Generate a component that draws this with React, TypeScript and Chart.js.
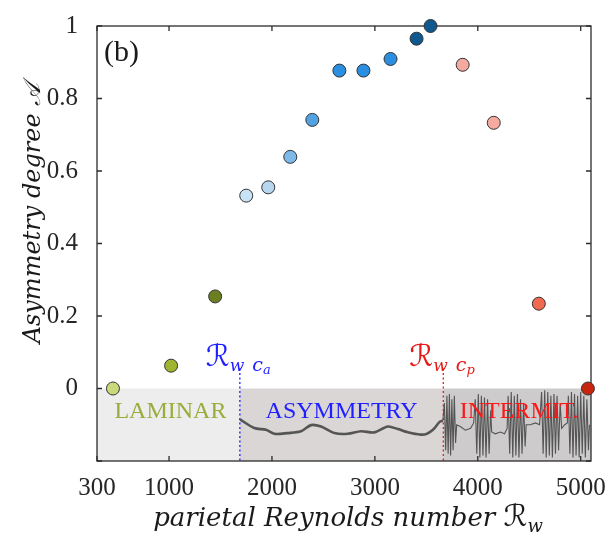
import React, { useEffect, useRef } from "react";
import { Chart, registerables } from "chart.js";

Chart.register(...registerables);

// ---- data ----
const reynolds = [455, 1020, 1448, 1750, 1964, 2178, 2392, 2655, 2889, 3152, 3405, 3541, 3853, 4155, 4593, 5070];
const asymmetry = [0.0, 0.063, 0.254, 0.532, 0.555, 0.639, 0.741, 0.877, 0.877, 0.909, 0.965, 1.0, 0.893, 0.733, 0.234, 0.0];
const pointColors = [
  "#c9d97c", "#9fb52f", "#6b7e21", "#c8e2f6", "#b7d7f1", "#7fb9e9", "#52a2e2", "#2a8fe0",
  "#2a8fe0", "#2a8fe0", "#0f5890", "#0f5890", "#f5aa9f", "#f5aa9f", "#f06a50", "#c8230f",
];

const xTicks = [300, 1000, 2000, 3000, 4000, 5000];
const yTicks = [-0.2, 0, 0.2, 0.4, 0.6, 0.8, 1];

const regimeBounds = [300, 1688, 3665, 5100];
const regimeNames = ["LAMINAR", "ASYMMETRY", "INTERMIT."];
const criticalRe = [1688, 3665]; // R_w c_a , R_w c_p
const criticalSub = ["a", "p"];

// schematic velocity signals drawn in the regime strip
const asymSignal = [
  [1690, -0.085], [1828, -0.109], [1942, -0.114], [2022, -0.125], [2152, -0.123], [2282, -0.118],
  [2380, -0.101], [2477, -0.105], [2607, -0.123], [2736, -0.125], [2866, -0.118], [2996, -0.121],
  [3126, -0.105], [3223, -0.112], [3353, -0.123], [3483, -0.127], [3564, -0.114], [3629, -0.092], [3661, -0.089],
];
const intermitSignal = [
  [3661, -0.089], [3675, -0.04], [3688, -0.17], [3700, -0.02], [3712, -0.18], [3724, -0.015], [3736, -0.185],
  [3748, -0.03], [3760, -0.17], [3772, -0.02], [3784, -0.15], [3795, -0.1],
  [3830, -0.105], [3880, -0.115], [3930, -0.11], [3960, -0.095],
  [3975, -0.03], [3990, -0.18], [4005, -0.015], [4020, -0.19], [4035, -0.02], [4050, -0.185], [4065, -0.025],
  [4080, -0.19], [4095, -0.03], [4110, -0.18], [4125, -0.06], [4135, -0.12],
  [4170, -0.125], [4220, -0.12], [4260, -0.125], [4285, -0.11],
  [4295, -0.02], [4310, -0.18], [4325, -0.01], [4340, -0.19], [4355, -0.02], [4370, -0.185], [4385, -0.015],
  [4400, -0.19], [4415, -0.03], [4430, -0.18], [4445, -0.04], [4460, -0.16], [4470, -0.1],
  [4510, -0.1], [4560, -0.095], [4600, -0.1],
  [4620, -0.01], [4635, -0.18], [4650, -0.005], [4665, -0.19], [4680, -0.01], [4695, -0.185], [4710, -0.02],
  [4725, -0.19], [4740, -0.015], [4755, -0.18], [4770, -0.02], [4785, -0.17], [4800, -0.04], [4815, -0.11],
  [4845, -0.1], [4870, -0.095],
  [4880, -0.02], [4895, -0.18], [4910, -0.01], [4925, -0.19], [4940, -0.015], [4955, -0.185], [4970, -0.02],
  [4985, -0.19], [5000, -0.01], [5015, -0.18], [5030, -0.02], [5045, -0.19], [5060, -0.03], [5075, -0.17], [5085, -0.1],
];

// ---- styles ----
const bandColors = ["#eeeded", "#dad6d6", "#cdcbcb"];
const regimeColors = ["#9aad3c", "#1f1fff", "#ff1616"];
const criticalColors = ["#1f1fff", "#e81818"];
const SERIF = '"Liberation Serif", "Times New Roman", serif';
const ITAL = '"DejaVu Serif", "DejaVu Sans", serif';

const decorPlugin = {
  id: "decor",
  beforeDatasetsDraw(chart: any) {
    const { ctx, chartArea: a, scales } = chart;
    const x = scales.x, y = scales.y;
    ctx.save();
    const y0 = y.getPixelForValue(0), yb = y.getPixelForValue(-0.2);
    for (let i = 0; i < regimeBounds.length - 1; i++) {
      const x0 = x.getPixelForValue(regimeBounds[i]);
      const x1 = x.getPixelForValue(regimeBounds[i + 1]);
      ctx.fillStyle = bandColors[i];
      ctx.fillRect(x0, y0, x1 - x0, yb - y0);
    }
    // dotted critical lines
    criticalRe.forEach((v, i) => {
      const px = x.getPixelForValue(v);
      ctx.strokeStyle = criticalColors[i];
      ctx.lineWidth = 1.3;
      ctx.setLineDash([2, 2.5]);
      ctx.beginPath();
      ctx.moveTo(px, y.getPixelForValue(0.055));
      ctx.lineTo(px, a.bottom);
      ctx.stroke();
    });
    ctx.setLineDash([]);
    // frame
    ctx.strokeStyle = "#2b2b2b";
    ctx.lineWidth = 1.3;
    ctx.strokeRect(a.left, a.top, a.right - a.left, a.bottom - a.top);
    const tl = 5;
    ctx.beginPath();
    xTicks.forEach((v) => {
      const px = x.getPixelForValue(v);
      ctx.moveTo(px, a.bottom); ctx.lineTo(px, a.bottom - tl);
      ctx.moveTo(px, a.top); ctx.lineTo(px, a.top + tl);
    });
    yTicks.forEach((v) => {
      const py = y.getPixelForValue(v);
      ctx.moveTo(a.left, py); ctx.lineTo(a.left + tl, py);
      ctx.moveTo(a.right, py); ctx.lineTo(a.right - tl, py);
    });
    ctx.stroke();
    ctx.restore();
  },
  afterDatasetsDraw(chart: any) {
    const { ctx, chartArea: a, scales } = chart;
    const x = scales.x, y = scales.y;
    ctx.save();
    ctx.textBaseline = "alphabetic";
    // regime names
    ctx.font = `24px ${SERIF}`;
    ctx.textAlign = "center";
    for (let i = 0; i < regimeNames.length; i++) {
      const x0 = x.getPixelForValue(regimeBounds[i]);
      const x1 = x.getPixelForValue(regimeBounds[i + 1]);
      ctx.fillStyle = regimeColors[i];
      ctx.fillText(regimeNames[i], (x0 + x1) / 2 + (i === 0 ? 2 : i === 1 ? 0 : 2), y.getPixelForValue(-0.082));
    }
    // critical Reynolds labels
    ctx.textAlign = "left";
    criticalRe.forEach((v, i) => {
      const px = x.getPixelForValue(v);
      let cx = px - 34;
      const base = y.getPixelForValue(0.063);
      ctx.fillStyle = criticalColors[i];
      ctx.font = `italic 30px ${ITAL}`;
      ctx.fillText("\u211B", cx, base);
      cx += ctx.measureText("\u211B").width;
      ctx.font = `italic 17px ${ITAL}`;
      ctx.fillText("w", cx, base + 5);
      cx += ctx.measureText("w").width + 8;
      ctx.font = `italic 19px ${ITAL}`;
      ctx.fillText("c", cx, base + 5);
      cx += ctx.measureText("c").width;
      ctx.font = `italic 13px ${ITAL}`;
      ctx.fillText(criticalSub[i], cx, base + 8);
    });
    // panel label
    ctx.fillStyle = "#1a1a1a";
    ctx.font = `30px ${SERIF}`;
    ctx.fillText("(b)", a.left + 7, a.top + 35);
    // x title
    ctx.fillStyle = "#1a1a1a";
    const xt = "parietal Reynolds number ";
    ctx.font = `italic 26px ${ITAL}`;
    const w1 = ctx.measureText(xt).width;
    ctx.font = `italic 30px ${ITAL}`;
    const w2 = ctx.measureText("\u211B").width;
    ctx.font = `italic 18px ${ITAL}`;
    const w3 = ctx.measureText("w").width;
    let sx = 348 - (w1 + w2 + w3) / 2;
    const xb = 526;
    ctx.font = `italic 26px ${ITAL}`;
    ctx.fillText(xt, sx, xb);
    sx += w1;
    ctx.font = `italic 30px ${ITAL}`;
    ctx.fillText("\u211B", sx, xb);
    sx += w2;
    ctx.font = `italic 18px ${ITAL}`;
    ctx.fillText("w", sx, xb + 6);
    // y title
    ctx.save();
    ctx.translate(40, 213);
    ctx.rotate(-Math.PI / 2);
    ctx.textAlign = "center";
    ctx.font = `italic 24px ${ITAL}`;
    ctx.fillText("Asymmetry degree \uD835\uDC9C", 0, 0);
    ctx.restore();
    ctx.restore();
  },
};

export default function App() {
  const ref = useRef<HTMLCanvasElement | null>(null);
  useEffect(() => {
    document.body.style.margin = "0";
    if (!ref.current) return;
    const chart = new Chart(ref.current, {
      type: "scatter",
      data: {
        datasets: [
          {
            type: "scatter",
            data: reynolds.map((v, i) => ({ x: v, y: asymmetry[i] })),
            pointBackgroundColor: pointColors,
            pointBorderColor: "#333333",
            pointBorderWidth: 1,
            pointRadius: 6.5,
            clip: false,
            order: 0,
          } as any,
          {
            type: "line",
            data: asymSignal.map(([a, b]) => ({ x: a, y: b })),
            borderColor: "#555555",
            borderWidth: 2.6,
            pointRadius: 0,
            tension: 0.3,
            order: 1,
          } as any,
          {
            type: "line",
            data: intermitSignal.map(([a, b]) => ({ x: a, y: b })),
            borderColor: "#555555",
            borderWidth: 1.1,
            pointRadius: 0,
            order: 1,
          } as any,
        ],
      },
      options: {
        animation: false,
        responsive: false,
        layout: { padding: { top: 14, right: 24, left: 0, bottom: 0 } },
        plugins: { legend: { display: false }, tooltip: { enabled: false } },
        scales: {
          x: {
            type: "linear",
            min: 300,
            max: 5100,
            grid: { display: false },
            border: { display: false },
            afterBuildTicks: (s: any) => { s.ticks = xTicks.map((v) => ({ value: v })); },
            afterFit: (s: any) => { s.height = 74; },
            ticks: {
              autoSkip: false,
              maxRotation: 0,
              padding: 4,
              color: "#262626",
              font: { family: SERIF, size: 25 },
              callback: (v: any) => String(v),
            },
          },
          y: {
            type: "linear",
            min: -0.2,
            max: 1,
            grid: { display: false },
            border: { display: false },
            afterBuildTicks: (s: any) => { s.ticks = yTicks.map((v) => ({ value: v })); },
            afterFit: (s: any) => { s.width = 97; },
            ticks: {
              padding: 11,
              color: "#262626",
              font: { family: SERIF, size: 25 },
              callback: (v: any) => (Math.abs(v + 0.2) < 1e-9 ? "" : String(Math.round(v * 10) / 10)),
            },
          },
        },
      },
      plugins: [decorPlugin],
    } as any);
    return () => chart.destroy();
  }, []);
  return (
    <div style={{ width: 615, height: 535 }}>
      <canvas ref={ref} width={615} height={535} />
    </div>
  );
}
